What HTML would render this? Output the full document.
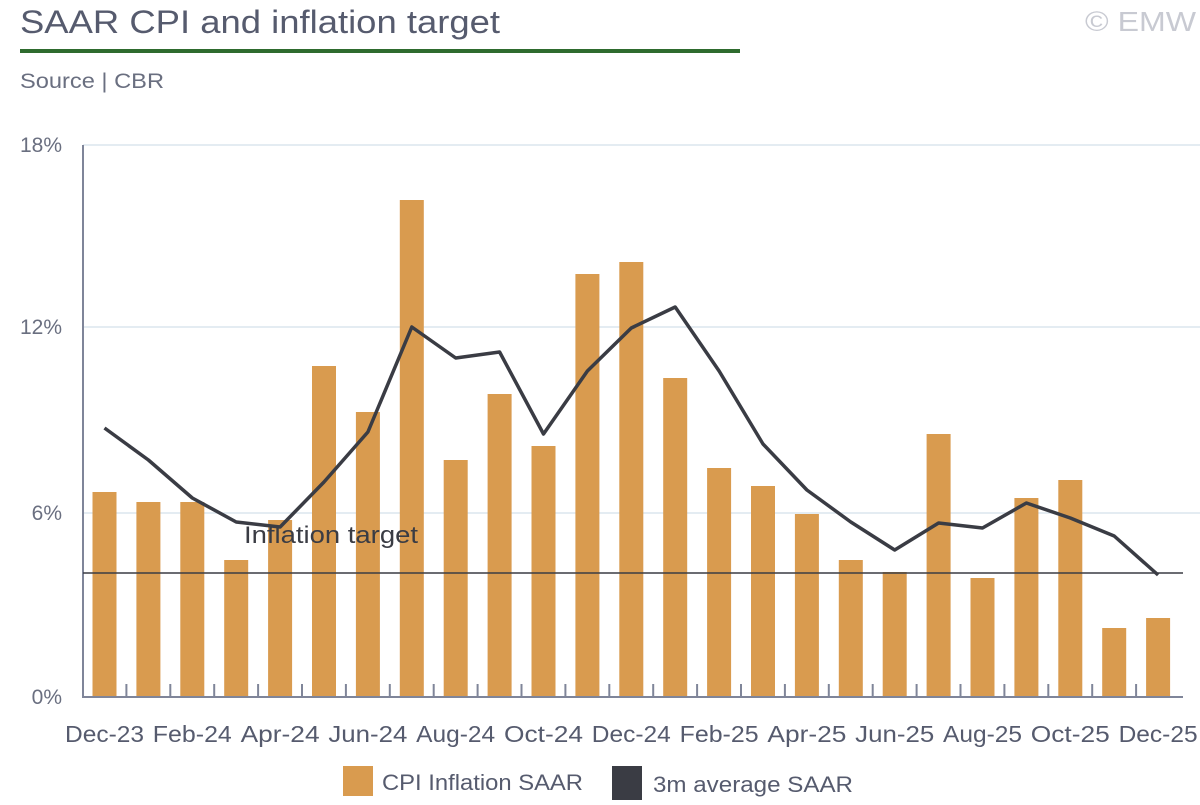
<!DOCTYPE html><html><head><style>body{margin:0;background:#fff}</style></head><body>
<svg width="1200" height="800" xmlns="http://www.w3.org/2000/svg" font-family="'Liberation Sans',sans-serif">
<text x="20" y="33" font-size="32" fill="#565b6e" textLength="480" lengthAdjust="spacingAndGlyphs">SAAR CPI and inflation target</text>
<text x="1085" y="31" font-size="28" fill="#c8cad2" textLength="111" lengthAdjust="spacingAndGlyphs">© EMW</text>
<rect x="20" y="49" width="720" height="4" fill="#2e6b2e"/>
<text x="20" y="88" font-size="21" fill="#6a6f80" textLength="144" lengthAdjust="spacingAndGlyphs">Source | CBR</text>
<g stroke="#dbe5ee" stroke-width="1.5">
<line x1="83" x2="1200" y1="145" y2="145"/><line x1="83" x2="1200" y1="327" y2="327"/><line x1="83" x2="1200" y1="513" y2="513"/></g>
<g font-size="21" fill="#6a6f80" text-anchor="end">
<text x="62" y="152">18%</text><text x="62" y="334">12%</text><text x="62" y="520">6%</text><text x="62" y="704">0%</text></g>
<g id="bars" fill="#d99b4f"></g>
<line x1="83" y1="697" x2="1183" y2="697" stroke="#7f8599" stroke-width="2"/>
<line x1="83" y1="145" x2="83" y2="698" stroke="#7f8599" stroke-width="2"/>
<g id="ticks" stroke="#7f8599" stroke-width="2"></g>
<line x1="83" y1="573" x2="1183" y2="573" stroke="#3a3c44" stroke-width="1.5"/>
<text x="244" y="543" font-size="24" fill="#3a3c44" textLength="174" lengthAdjust="spacingAndGlyphs">Inflation target</text>
<polyline id="ln" fill="none" stroke="#3a3c44" stroke-width="3.5" stroke-linejoin="round"/>
<g id="lbl" font-size="23" fill="#565b6e" text-anchor="middle"></g>
<rect x="343" y="766" width="30" height="30" fill="#d99b4f"/>
<text x="382" y="790" font-size="22" fill="#565b6e" textLength="201" lengthAdjust="spacingAndGlyphs">CPI Inflation SAAR</text>
<rect x="612" y="766" width="30" height="34" fill="#3a3c44"/>
<text x="653" y="792" font-size="22" fill="#565b6e" textLength="200" lengthAdjust="spacingAndGlyphs">3m average SAAR</text>
</svg>
<script>
var tops=[492,502,502,560,520,366,412,200,460,394,446,274,262,378,468,486,514,560,572,434,578,498,480,628,618];
var ly=[428,460,498,522,527,482,432,327,358,352,434,371,328,307,371,444,490,522,550,523,528,503,518,536,575];
var ns="http://www.w3.org/2000/svg",b=document.getElementById('bars'),t=document.getElementById('ticks'),l=document.getElementById('lbl');
var labs=["Dec-23","Feb-24","Apr-24","Jun-24","Aug-24","Oct-24","Dec-24","Feb-25","Apr-25","Jun-25","Aug-25","Oct-25","Dec-25"];
var pts=[];
for(var i=0;i<25;i++){var c=104.5+i*43.9;
var r=document.createElementNS(ns,'rect');r.setAttribute('x',c-12);r.setAttribute('y',tops[i]);r.setAttribute('width',24);r.setAttribute('height',697-tops[i]);b.appendChild(r);
pts.push(c+','+ly[i]);
if(i>0){var k=document.createElementNS(ns,'line');var x=c-22;k.setAttribute('x1',x);k.setAttribute('x2',x);k.setAttribute('y1',684);k.setAttribute('y2',697);t.appendChild(k);}
if(i%2==0){var tx=document.createElementNS(ns,'text');tx.setAttribute('x',c);tx.setAttribute('y',742);tx.setAttribute('textLength',79);tx.setAttribute('lengthAdjust','spacingAndGlyphs');tx.textContent=labs[i/2];l.appendChild(tx);}}
document.getElementById('ln').setAttribute('points',pts.join(' '));
</script>
</body></html>
